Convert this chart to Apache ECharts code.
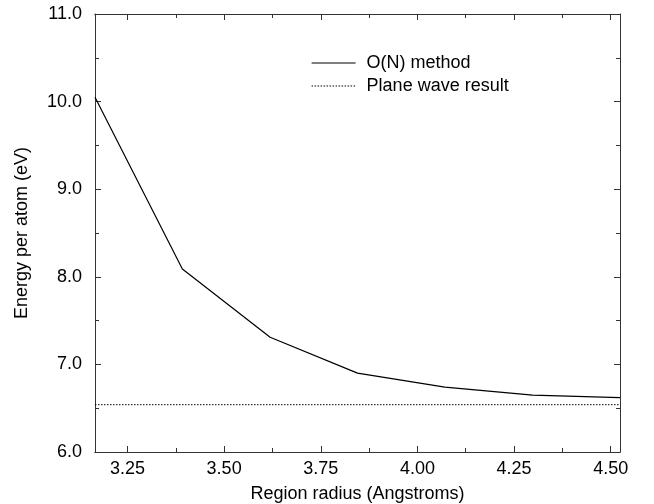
<!DOCTYPE html>
<html>
<head>
<meta charset="utf-8">
<script src="https://cdn.jsdelivr.net/npm/echarts@6/dist/echarts.min.js"></script>
<style>
  html, body { margin: 0; padding: 0; background: #fff; }
  #energyChart { width: 654px; height: 504px; }
</style>
</head>
<body>
<div id="energyChart"></div>
<script>
// region radius (Angstroms) and energy per atom (eV)
var radius = [3.166, 3.392, 3.619, 3.845, 4.071, 4.298, 4.524];
var energyON = [10.05, 8.09, 7.31, 6.90, 6.74, 6.65, 6.62];
var planeWave = 6.54;

var xTicks = [3.25, 3.50, 3.75, 4.00, 4.25, 4.50];
var xMinorTicks = [3.375, 3.625, 3.875, 4.125, 4.375];
var xMin = 3.166, xMax = 4.524;

var chart = echarts.init(document.getElementById('energyChart'));

var font = 'Liberation Sans, Arial, Helvetica, sans-serif';
var axisCol = '#333';

function xAxisDef(pos, ticks, len, withLabels) {
	return {
		type: 'value',
		position: pos,
		min: xMin,
		max: xMax,
		axisLine: { show: true, onZero: false, lineStyle: { color: axisCol, width: 1 } },
		axisTick: { show: true, inside: true, length: len, customValues: ticks, lineStyle: { color: axisCol } },
		axisLabel: withLabels ? {
			show: true, customValues: ticks, margin: 8,
			fontFamily: font, fontSize: 18, color: '#000',
			formatter: function (v) { return v.toFixed(2); }
		} : { show: false },
		splitLine: { show: false },
		name: withLabels ? 'Region radius (Angstroms)' : '',
		nameLocation: 'middle',
		nameGap: 33,
		nameTextStyle: { fontFamily: font, fontSize: 18, color: '#000' }
	};
}

function yAxisDef(pos, withLabels) {
	return {
		type: 'value',
		position: pos,
		min: 6,
		max: 11,
		interval: 1,
		axisLine: { show: true, onZero: false, lineStyle: { color: axisCol, width: 1 } },
		axisTick: { show: true, inside: true, length: 6, lineStyle: { color: axisCol } },
		minorTick: { show: true, splitNumber: 2, length: 4, lineStyle: { color: axisCol } },
		axisLabel: withLabels ? {
			show: true, margin: 13,
			fontFamily: font, fontSize: 18, color: '#000',
			formatter: function (v) { return v.toFixed(1); }
		} : { show: false },
		splitLine: { show: false },
		name: withLabels ? 'Energy per atom (eV)' : '',
		nameLocation: 'middle',
		nameGap: 64,
		nameTextStyle: { fontFamily: font, fontSize: 18, color: '#000' }
	};
}

var option = {
	animation: false,
	backgroundColor: '#fff',
	grid: { left: 95, right: 34, top: 14, bottom: 52, outerBoundsMode: 'none' },
	legend: {
		orient: 'vertical',
		left: 311,
		top: 54,
		padding: 0,
		itemWidth: 44,
		itemHeight: 18,
		itemGap: 5,
		itemStyle: { opacity: 0 },
		lineStyle: { width: 1.2 },
		textStyle: { fontFamily: font, fontSize: 18, color: '#000', padding: [0, 0, 0, 6] },
		data: ['O(N) method', 'Plane wave result']
	},
	xAxis: [
		xAxisDef('bottom', xTicks, 6, true),
		xAxisDef('bottom', xMinorTicks, 4, false),
		xAxisDef('top', xTicks, 6, false),
		xAxisDef('top', xMinorTicks, 4, false)
	],
	yAxis: [
		yAxisDef('left', true),
		yAxisDef('right', false)
	],
	series: [
		{
			name: 'O(N) method',
			type: 'line',
			symbol: 'none',
			color: '#000',
			lineStyle: { color: '#000', width: 1.2 },
			data: radius.map(function (r, i) { return [r, energyON[i]]; })
		},
		{
			name: 'Plane wave result',
			type: 'line',
			symbol: 'none',
			color: '#000',
			lineStyle: { color: '#000', width: 1, type: [1.5, 1.5] },
			data: [[xMin, planeWave], [xMax, planeWave]]
		}
	]
};
chart.setOption(option);
</script>
</body>
</html>
